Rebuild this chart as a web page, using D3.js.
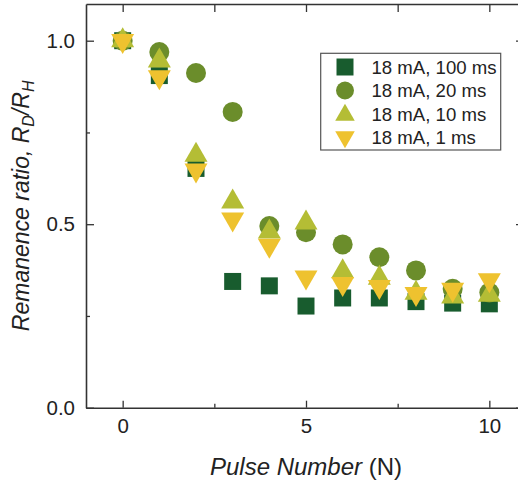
<!DOCTYPE html>
<html>
<head>
<meta charset="utf-8">
<script src="https://cdn.jsdelivr.net/npm/d3@7"></script>
<style>
  html, body { margin: 0; padding: 0; background: #fff; }
  svg { display: block; }
  text { font-family: "Liberation Sans", Arial, sans-serif; fill: #222; }
</style>
</head>
<body>
<svg id="chart" width="518" height="482"></svg>
<script>
// ---- data ----
const pulses = [0, 1, 2, 3, 4, 5, 6, 7, 8, 9, 10];
const seriesNames = ["18 mA, 100 ms", "18 mA, 20 ms", "18 mA, 10 ms", "18 mA, 1 ms"];
const values100ms = [1.0, 0.905, 0.652, 0.344, 0.332, 0.277, 0.299, 0.299, 0.289, 0.285, 0.283];
const values20ms  = [1.0, 0.969, 0.912, 0.806, 0.495, 0.478, 0.445, 0.410, 0.374, 0.324, 0.314];
const values10ms  = [1.0, 0.945, 0.688, 0.561, 0.479, 0.504, 0.371, 0.353, 0.312, 0.302, 0.307];
const values1ms   = [1.0, 0.901, 0.647, 0.514, 0.442, 0.356, 0.338, 0.330, 0.311, 0.322, 0.348];
const xTicks = [0, 5, 10];
const xMinorTicks = [2.5, 7.5];
const yTicks = [0.0, 0.5, 1.0];
const yMinorTicks = [0.25, 0.75];

const colors = ["#185c2e", "#6b8d2b", "#b4bd35", "#eec22f"];
const shapes = ["square", "circle", "up", "down"];
const allValues = [values100ms, values20ms, values10ms, values1ms];

(function () {
// ---- layout ----
const svg = d3.select("#chart");
const pLeft = 86, pRight = 526, pTop = 4, pBottom = 407.7;
const x = d3.scaleLinear().domain([-1, 11]).range([pLeft, pRight]);
const y = d3.scaleLinear().domain([0, 1.1]).range([pBottom, pTop]);

const axisColor = "#333";

// marker path generator (relative to point)
function markerPath(shape, s) {
  const p = d3.path();
  if (shape === "square") {
    const h = 8.5 * s;
    p.rect(-h, -h, 2 * h, 2 * h);
  } else if (shape === "circle") {
    const r = 10 * s;
    p.arc(0, 0, r, 0, 2 * Math.PI);
  } else if (shape === "up") {
    const w = 11.5 * s, h = 20 * s;
    p.moveTo(0, -2 * h / 3); p.lineTo(w, h / 3); p.lineTo(-w, h / 3); p.closePath();
  } else {
    const w = 11.5 * s, h = 20 * s;
    p.moveTo(0, 2 * h / 3); p.lineTo(w, -h / 3); p.lineTo(-w, -h / 3); p.closePath();
  }
  return p.toString();
}

// ---- markers ----
const gPts = svg.append("g");
allValues.forEach((vals, i) => {
  gPts.append("g").selectAll("path")
    .data(vals.map((v, k) => ({ n: pulses[k], v })))
    .join("path")
    .attr("d", markerPath(shapes[i], 1))
    .attr("transform", d => `translate(${x(d.n)},${y(d.v)})`)
    .attr("fill", colors[i]);
});

// ---- axes ----
function styleAxis(g) {
  g.selectAll(".domain").attr("stroke", axisColor).attr("stroke-width", 1.6);
  g.selectAll(".tick line").attr("stroke", axisColor).attr("stroke-width", 1.3);
}
// bottom
const gxB = svg.append("g").attr("transform", `translate(0,${pBottom})`)
  .call(d3.axisBottom(x).tickValues(xTicks).tickSizeInner(-7).tickSizeOuter(0).tickPadding(11).tickFormat(d3.format("d")));
styleAxis(gxB);
gxB.selectAll(".tick text").attr("font-size", 20.5).attr("fill", "#222").attr("dy", "0.71em");
svg.append("g").attr("transform", `translate(0,${pBottom})`)
  .call(d3.axisBottom(x).tickValues(xMinorTicks).tickSizeInner(-4).tickSizeOuter(0).tickFormat(""))
  .call(styleAxis).select(".domain").remove();
// top
svg.append("g").attr("transform", `translate(0,${pTop})`)
  .call(d3.axisTop(x).tickValues(xTicks.concat(xMinorTicks)).tickSizeInner(-8).tickSizeOuter(0).tickFormat(""))
  .call(styleAxis);
// left
const gyL = svg.append("g").attr("transform", `translate(${pLeft},0)`)
  .call(d3.axisLeft(y).tickValues(yTicks).tickSizeInner(-8).tickSizeOuter(0).tickPadding(11).tickFormat(d3.format(".1f")));
styleAxis(gyL);
gyL.selectAll(".tick text").attr("font-size", 20.5).attr("fill", "#222");
svg.append("g").attr("transform", `translate(${pLeft},0)`)
  .call(d3.axisLeft(y).tickValues(yMinorTicks).tickSizeInner(-4).tickSizeOuter(0).tickFormat(""))
  .call(styleAxis).select(".domain").remove();
// right
svg.append("g").attr("transform", `translate(${pRight},0)`)
  .call(d3.axisRight(y).tickValues(yTicks).tickSizeInner(-10).tickSizeOuter(0).tickFormat(""))
  .call(styleAxis);

// ---- axis titles ----
const xt = svg.append("text").attr("x", (x(0) + x(10)) / 2).attr("y", 475)
  .attr("text-anchor", "middle").attr("font-size", 24);
xt.append("tspan").attr("font-style", "italic").text("Pulse Number");
xt.append("tspan").text(" (N)");

const yt = svg.append("text")
  .attr("transform", `translate(29,${(pTop + pBottom) / 2}) rotate(-90)`)
  .attr("text-anchor", "middle").attr("font-size", 23).attr("font-style", "italic");
yt.append("tspan").text("Remanence ratio, R");
yt.append("tspan").attr("font-size", 16).attr("dy", 5).text("D");
yt.append("tspan").attr("dy", -5).text("/R");
yt.append("tspan").attr("font-size", 16).attr("dy", 5).text("H");

// ---- legend ----
const lg = svg.append("g");
lg.append("rect").attr("x", 320.7).attr("y", 53.3).attr("width", 180).attr("height", 96.7)
  .attr("fill", "#fff").attr("stroke", "#555").attr("stroke-width", 1.2);
const rowY = [67, 90.5, 114, 137];
seriesNames.forEach((name, i) => {
  const scale = (shapes[i] === "up" || shapes[i] === "down") ? 0.85 : (shapes[i] === "circle" ? 0.9 : 1);
  lg.append("path").attr("d", markerPath(shapes[i], scale))
    .attr("transform", `translate(345,${rowY[i] + (shapes[i] === "up" ? 1 : 0)})`)
    .attr("fill", colors[i]);
  lg.append("text").attr("x", 371.5).attr("y", rowY[i] + 6.5)
    .attr("font-size", 18.6).text(name);
});
})();
</script>
</body>
</html>
